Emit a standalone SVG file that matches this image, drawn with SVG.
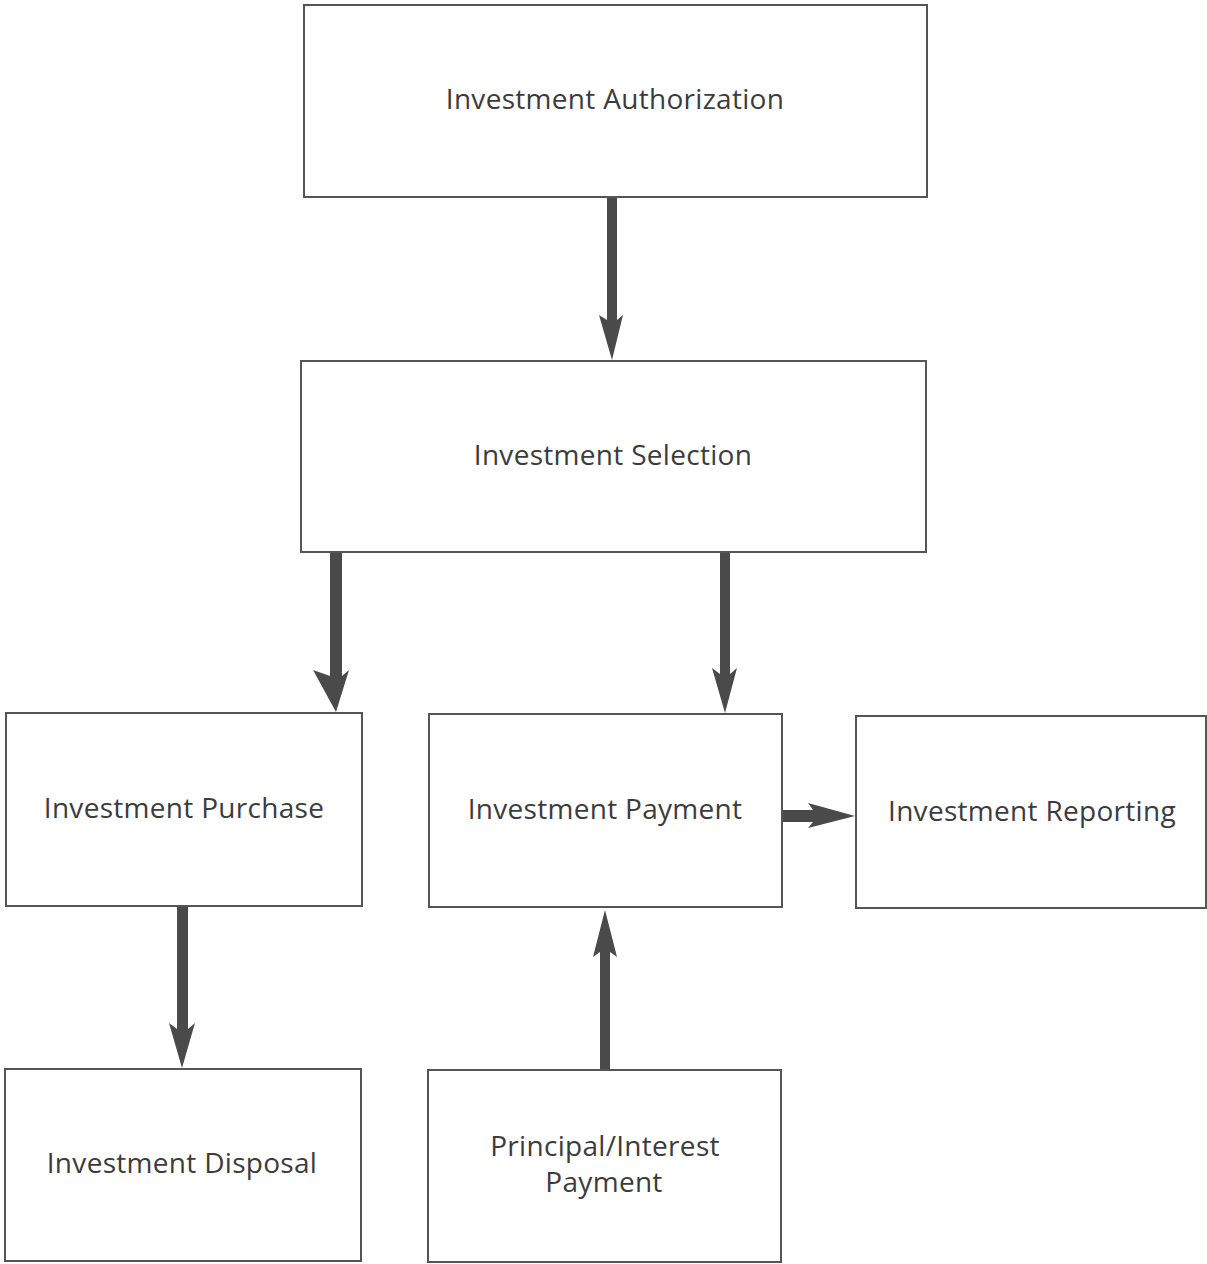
<svg xmlns="http://www.w3.org/2000/svg" width="1207" height="1264" viewBox="0 0 1207 1264">
<style>
.box{fill:#fff;stroke:#555;stroke-width:2}
.lbl{font-family:"Open Sans","Noto Sans",sans-serif;font-size:28px;letter-spacing:0.3px;fill:#3c3c3c;text-anchor:middle;dominant-baseline:central}
.arr{fill:#4a4a4a;stroke:none}
</style>
<rect width="1207" height="1264" fill="#fff"/>
<g id="n1"><rect class="box" x="304" y="5" width="623" height="192"/><text class="lbl" x="615" y="98">Investment Authorization</text></g>
<g id="n2"><rect class="box" x="301" y="361" width="625" height="191"/><text class="lbl" x="613" y="454">Investment Selection</text></g>
<g id="n3"><rect class="box" x="6" y="713" width="356" height="193"/><text class="lbl" x="184" y="807">Investment Purchase</text></g>
<g id="n4"><rect class="box" x="429" y="714" width="353" height="193"/><text class="lbl" x="605" y="808">Investment Payment</text></g>
<g id="n5"><rect class="box" x="856" y="716" width="350" height="192"/><text class="lbl" x="1032" y="810">Investment Reporting</text></g>
<g id="n6"><rect class="box" x="5" y="1069" width="356" height="192"/><text class="lbl" x="182" y="1162">Investment Disposal</text></g>
<g id="n7"><rect class="box" x="428" y="1070" width="353" height="192"/><text class="lbl" x="605" y="1145">Principal/Interest</text><text class="lbl" x="604" y="1181">Payment</text></g>
<g id="connectors">
<polygon class="arr" points="607,198 617,198 617,320 623,315 612,360 599,315 607,320"/>
<polygon class="arr" points="330,553 342,553 342,676 349,670 336,712 313,670 330,676"/>
<polygon class="arr" points="720,553 730,553 730,674 737,668 725,713 712,668 720,674"/>
<polygon class="arr" points="177,907 188,907 188,1029 195,1023 182,1068 169,1023 177,1029"/>
<polygon class="arr" points="600,1069 610,1069 610,952 617,957 605,910 593,957 600,952"/>
<polygon class="arr" points="783,810 813,810 808,803 855,816 808,828 813,822 783,822"/>
</g>
</svg>
